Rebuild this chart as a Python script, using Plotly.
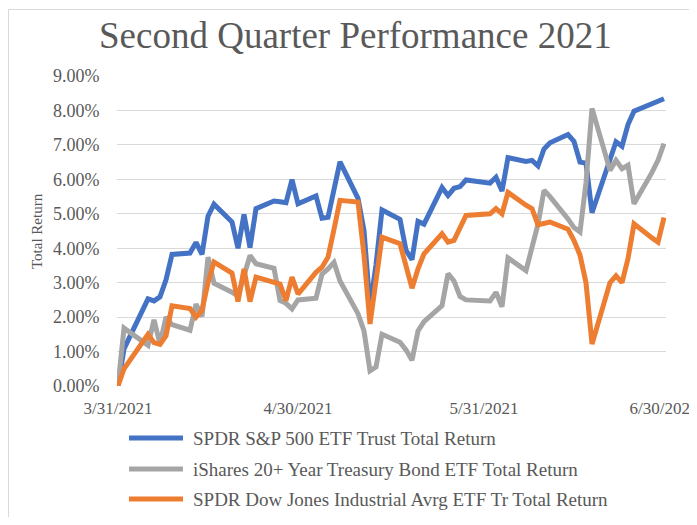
import plotly.graph_objects as go

dates = ["2021-03-31", "2021-04-01", "2021-04-05", "2021-04-06", "2021-04-07", "2021-04-08", "2021-04-09",
         "2021-04-12", "2021-04-13", "2021-04-14", "2021-04-15", "2021-04-16",
         "2021-04-19", "2021-04-20", "2021-04-21", "2021-04-22", "2021-04-23",
         "2021-04-26", "2021-04-27", "2021-04-28", "2021-04-29", "2021-04-30",
         "2021-05-03", "2021-05-04", "2021-05-05", "2021-05-06", "2021-05-07",
         "2021-05-10", "2021-05-11", "2021-05-12", "2021-05-13", "2021-05-14",
         "2021-05-17", "2021-05-18", "2021-05-19", "2021-05-20", "2021-05-21",
         "2021-05-24", "2021-05-25", "2021-05-26", "2021-05-27", "2021-05-28",
         "2021-06-01", "2021-06-02", "2021-06-03", "2021-06-04",
         "2021-06-07", "2021-06-08", "2021-06-09", "2021-06-10", "2021-06-11",
         "2021-06-14", "2021-06-15", "2021-06-16", "2021-06-17", "2021-06-18",
         "2021-06-21", "2021-06-22", "2021-06-23", "2021-06-24", "2021-06-25",
         "2021-06-28", "2021-06-29", "2021-06-30"]

# Total return, percent
spy = [0, 1.08, 2.53, 2.47, 2.59, 3.08, 3.82,
       3.86, 4.17, 3.82, 4.93, 5.28,
       4.76, 4.00, 4.98, 4.02, 5.15,
       5.37, 5.35, 5.32, 5.99, 5.29,
       5.52, 4.87, 4.90, 5.74, 6.51,
       5.45, 4.51, 2.29, 3.52, 5.11,
       4.84, 3.94, 3.67, 4.78, 4.70,
       5.76, 5.53, 5.74, 5.79, 5.98,
       5.89, 6.06, 5.66, 6.63,
       6.52, 6.55, 6.39, 6.88, 7.06,
       7.30, 7.10, 6.50, 6.47, 5.03,
       6.52, 7.09, 6.96, 7.59, 7.98,
       8.19, 8.25, 8.34]

tlt = [0, 1.68, 1.18, 1.92, 1.22, 2.00, 1.78,
       1.62, 2.38, 2.02, 3.74, 2.98,
       2.72, 2.62, 3.20, 3.79, 3.55,
       3.42, 2.48, 2.40, 2.24, 2.50,
       2.55, 3.25, 3.40, 3.59, 3.05,
       2.10, 1.60, 0.44, 0.55, 1.50,
       1.27, 1.05, 0.75, 1.60, 1.87,
       2.33, 3.26, 3.05, 2.60, 2.50,
       2.47, 2.72, 2.30, 3.72,
       3.35, 4.00, 4.70, 5.68, 5.50,
       4.85, 4.60, 4.47, 5.90, 8.06,
       6.26, 6.55, 6.31, 6.41, 5.29,
       6.20, 6.55, 7.04]

dia = [0, 0.50, 1.50, 1.26, 1.21, 1.46, 2.33,
       2.25, 2.00, 2.20, 3.00, 3.60,
       3.28, 2.45, 3.40, 2.45, 3.16,
       3.02, 2.96, 2.48, 3.16, 2.67,
       3.30, 3.45, 3.74, 4.55, 5.39,
       5.34, 3.80, 1.80, 3.10, 4.32,
       4.13, 3.50, 2.84, 3.40, 3.84,
       4.42, 4.18, 4.23, 4.60, 4.95,
       5.00, 5.15, 5.00, 5.62,
       5.25, 5.15, 4.68, 4.72, 4.76,
       4.55, 4.22, 3.80, 3.00, 1.22,
       3.00, 3.20, 3.00, 3.70, 4.71,
       4.30, 4.18, 4.89]

series_names = ["SPDR S&P 500 ETF Trust Total Return",
                "iShares 20+ Year Treasury Bond ETF Total Return",
                "SPDR Dow Jones Industrial Avrg ETF Tr Total Return"]
series_colors = ["#4472C4", "#A5A5A5", "#ED7D31"]
series_values = [spy, tlt, dia]

tick_dates = ["2021-03-31", "2021-04-30", "2021-05-31", "2021-06-30"]
tick_labels = ["3/31/2021", "4/30/2021", "5/31/2021", "6/30/2021"]

OFF = 8  # page body margin
W, H = 697 - OFF, 525 - 2 * OFF
# plot area in reference (window) pixels
PL, PR, PT, PB = 117, 666, 76, 386
L, R, T, B = PL - OFF, W - (PR - OFF), PT - OFF, H - (PB - OFF)
PW, PH = W - L - R, H - T - B


def px(x):
    return (x - PL) / PW


def py(y):
    return (PB - y) / PH


SERIF = "Liberation Serif, Times New Roman, serif"
TXT = "#595959"

fig = go.Figure()
for name, col, vals in zip(series_names, series_colors, series_values):
    fig.add_trace(go.Scatter(x=dates, y=[v / 100 for v in vals], mode="lines", name=name,
                             line=dict(color=col, width=5), showlegend=False))

shapes = [dict(type="rect", xref="paper", yref="paper", x0=px(8.5), x1=px(720), y0=py(9.5), y1=py(560),
               line=dict(color="#D9D9D9", width=1), fillcolor="rgba(0,0,0,0)", layer="below")]
annotations = [
    dict(text="Second Quarter Performance 2021", xref="paper", yref="paper", x=px(355), y=py(36),
         xanchor="center", yanchor="middle", showarrow=False, font=dict(family=SERIF, size=37, color=TXT)),
    dict(text="Total Return", xref="paper", yref="paper", x=px(37), y=py(231), textangle=-90,
         xanchor="center", yanchor="middle", showarrow=False, font=dict(family=SERIF, size=15, color=TXT)),
]
leg_y = [438, 469, 499]
for name, col, yy in zip(series_names, series_colors, leg_y):
    shapes.append(dict(type="line", xref="paper", yref="paper", x0=px(129), x1=px(183), y0=py(yy), y1=py(yy),
                       line=dict(color=col, width=5)))
    annotations.append(dict(text=name, xref="paper", yref="paper", x=px(191), y=py(yy), xanchor="left",
                            yanchor="middle", showarrow=False, font=dict(family=SERIF, size=19, color=TXT)))

fig.update_layout(
    width=W, height=H, margin=dict(l=L, r=R, t=T, b=B, autoexpand=False),
    paper_bgcolor="white", plot_bgcolor="white",
    shapes=shapes, annotations=annotations,
    xaxis=dict(type="date", range=["2021-03-30 20:00", "2021-06-30 08:00"], tickvals=tick_dates,
               ticktext=tick_labels, showgrid=False, zeroline=False, showline=False,
               ticks="outside", ticklen=7, tickcolor="rgba(0,0,0,0)", ticklabeloverflow="allow",
               tickfont=dict(family=SERIF, size=17, color=TXT)),
    yaxis=dict(range=[0, 0.09], dtick=0.01, tickformat=".2%", showgrid=True, gridcolor="#D9D9D9",
               gridwidth=1, zeroline=False, showline=False, ticks="outside", ticklen=13,
               tickcolor="rgba(0,0,0,0)", tickfont=dict(family=SERIF, size=18, color=TXT)),
)
fig.write_html("out.html")
